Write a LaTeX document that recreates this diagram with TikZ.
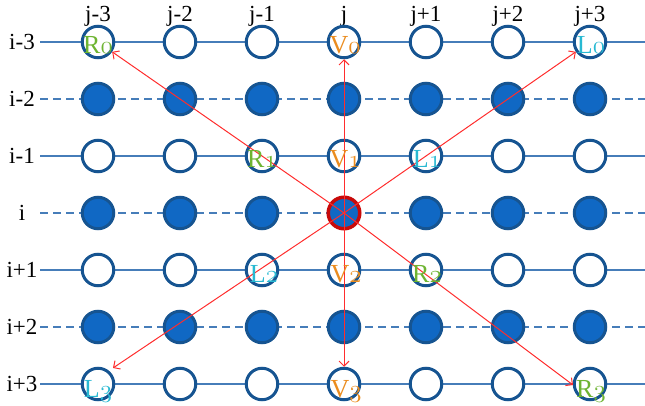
\documentclass[tikz,border=0pt]{standalone}
\usepackage{fontspec}
\setmainfont{Liberation Serif}
\usetikzlibrary{arrows.meta}
\definecolor{ringblue}{RGB}{22,84,145}
\definecolor{dotblue}{RGB}{16,104,196}
\definecolor{lineblue}{RGB}{70,125,185}
\definecolor{arrred}{RGB}{255,45,45}
\definecolor{ctrred}{RGB}{200,10,10}
\definecolor{lgreen}{RGB}{110,180,50}
\definecolor{lorange}{RGB}{235,140,30}
\definecolor{lcyan}{RGB}{40,185,210}
\newcommand\osn[1]{{\usefont{OML}{cmm}{m}{it}#1}}
\begin{document}
\begin{tikzpicture}[x=1pt,y=-1pt,
  ring/.style={circle,draw=ringblue,line width=3pt,fill=white,minimum size=31.5pt,inner sep=0pt},
  dot/.style={ring,fill=dotblue},
  ctrdot/.style={dot,draw=ctrred,line width=3.5pt},
  hline/.style={draw=lineblue,line width=1.2pt},
  dline/.style={hline,dash pattern=on 8pt off 5pt},
  redarrow/.style={draw=arrred,line width=1pt,-{Straight Barb[length=5pt,width=10pt]}},
  lab/.style={anchor=base,inner sep=0pt,font=\fontsize{26}{28}\selectfont},
  axlab/.style={inner sep=0pt,font=\fontsize{23}{25}\selectfont}]
\useasboundingbox (0,0) rectangle (645,406);
% grid lines
\foreach \y in {42,156,270,384} \draw[hline] (40,\y) -- (645,\y);
\foreach \y in {99,213,327} \draw[dline] (40,\y) -- (645,\y);
% column labels
\foreach \t [count=\c from 0] in {j-3,j-2,j-1,j,j+1,j+2,j+3}
  \node[axlab] (col\c) at ({98+82*\c},16) {\t};
% row labels
\foreach \t [count=\r from 0] in {i-3,i-2,i-1,i,i+1,i+2,i+3}
  \node[axlab] (row\r) at (22,{42+57*\r}) {\t};
% circles
\foreach \r in {0,2,4,6} \foreach \c in {0,...,6}
  \node[ring] (n\r\c) at ({98+82*\c},{42+57*\r}) {};
\foreach \r in {1,5} \foreach \c in {0,...,6}
  \node[dot] (n\r\c) at ({98+82*\c},{42+57*\r}) {};
\foreach \c in {0,1,2,4,5,6}
  \node[dot] (n3\c) at ({98+82*\c},213) {};
\node[ctrdot] (n33) at (344,213) {};
% arrow ends
\coordinate (eL3) at (113,368);
\coordinate (eR3) at (573,385);
% arrows
\draw[redarrow] (n33.center) -- (n00);
\draw[redarrow] (n33.center) -- (n03);
\draw[redarrow] (n33.center) -- (n06);
\draw[redarrow] (n33.center) -- (eL3);
\draw[redarrow] (n33.center) -- (n63);
\draw[redarrow] (n33.center) -- (eR3);
% labels
\node[lab,text=lgreen]  (tR0) at (98,53.5)  {R\osn{0}};
\node[lab,text=lorange] (tV0) at (345,53.5) {V\osn{0}};
\node[lab,text=lcyan]   (tL0) at (591,53.5) {L\osn{0}};
\node[lab,text=lgreen]  (tR1) at (262,168)  {R\osn{1}};
\node[lab,text=lorange] (tV1) at (345,168)  {V\osn{1}};
\node[lab,text=lcyan]   (tL1) at (427,168)  {L\osn{1}};
\node[lab,text=lcyan]   (tL2) at (264,282)  {L\osn{2}};
\node[lab,text=lorange] (tV2) at (346,282)  {V\osn{2}};
\node[lab,text=lgreen]  (tR2) at (427,282)  {R\osn{2}};
\node[lab,text=lcyan]   (tL3) at (98,397)   {L\osn{3}};
\node[lab,text=lorange] (tV3) at (346,397)  {V\osn{3}};
\node[lab,text=lgreen]  (tR3) at (591,397)  {R\osn{3}};
\end{tikzpicture}
\end{document}
